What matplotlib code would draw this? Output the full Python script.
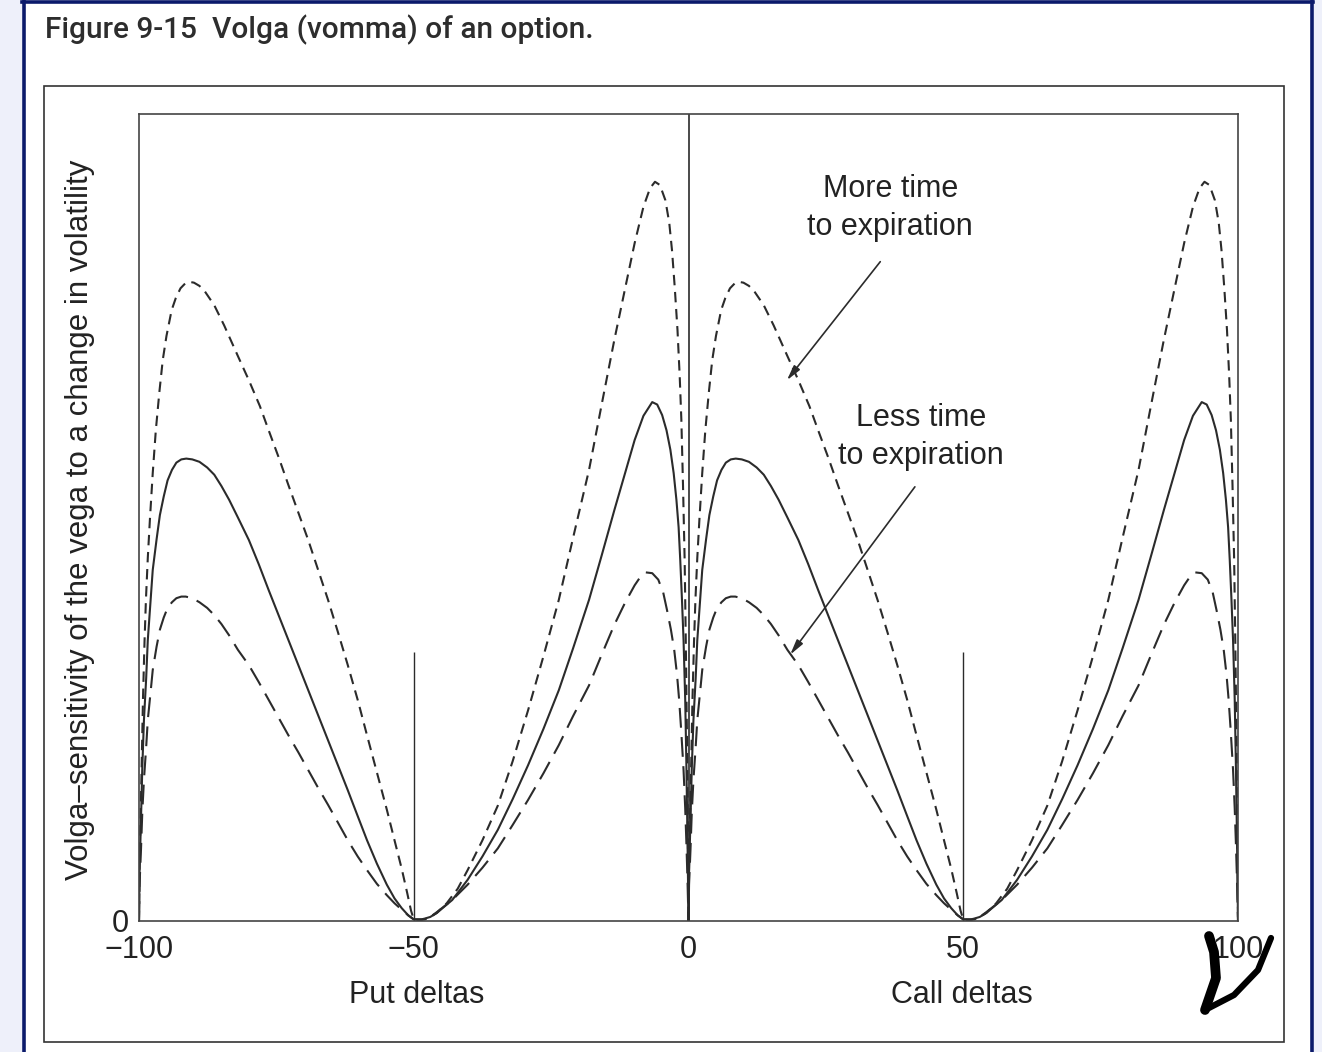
import matplotlib.pyplot as plt
from matplotlib.patches import Rectangle
from matplotlib.lines import Line2D

# put side (delta -100..0); the call side repeats the same shape shifted by +100
put_delta_more = [-100, -99.9, -99.64, -99.45, -99.28, -99.0, -98.74, -98.4, -98.02, -97.5, -96.94, -96.3, -95.68,
                  -95.0, -94.06, -93.3, -92.45, -91.6, -90.83, -90.0, -89.0, -88.0, -86.3, -84.5, -82.0, -80.0,
                  -78.0, -76.4, -74.5, -72.8, -71.0, -69.2, -67.4, -65.6, -63.8, -62.0, -60.2, -58.5, -56.7,
                  -54.9, -53.5, -52.2, -51.2, -50.5, -50.0, -49.0, -48.0, -47.0, -45.8, -44.0, -42.0, -40.2,
                  -37.5, -34.7, -32.0, -29.2, -26.4, -23.6, -21.0, -18.1, -15.8, -13.5, -11.5, -9.8, -8.2,
                  -7.0, -6.1, -5.2, -4.2, -3.5, -3.0, -2.5, -2.0, -1.6, -1.3, -1.0, -0.7, -0.5, -0.3, -0.15, 0]
volga_more = [0, 7.0, 15.0, 21.5, 27.4, 34.5, 39.8, 45.0, 49.7, 55.5, 60.8, 65.5, 69.5,
              72.5, 75.7, 77.2, 78.4, 79.0, 79.2, 79.1, 78.7, 78.0, 76.3, 73.8, 70.0, 67.0,
              63.8, 60.8, 57.3, 54.0, 50.6, 47.2, 43.5, 39.8, 35.8, 31.7, 27.4, 23.0, 18.4,
              13.8, 10.0, 6.5, 3.5, 1.3, 0.2, 0.1, 0.2, 0.5, 1.0, 2.2, 4.0, 6.3,
              10.0, 14.3, 19.8, 26.1, 32.8, 39.8, 47.5, 55.9, 64.0, 72.0, 78.5, 84.0, 88.5,
              90.8, 91.6, 91.2, 89.3, 86.5, 83.1, 78.5, 73.2, 67.5, 62.1, 54.0, 44.7, 35.0, 24.0, 14.0, 0]

put_delta_mid = [-100, -99.9, -99.64, -99.4, -99.1, -98.7, -98.4, -97.5, -96.8, -96.2, -95.5, -94.8, -94.0,
                 -93.2, -92.3, -91.4, -90.3, -89.0, -87.6, -86.3, -85.0, -83.6, -82.0, -80.0, -78.2, -76.4,
                 -74.6, -72.8, -71.0, -69.2, -67.4, -65.6, -63.8, -62.0, -60.2, -58.5, -56.7, -54.9, -53.5,
                 -52.2, -51.0, -50.0, -48.5, -47.0, -45.8, -43.0, -40.2, -37.5, -34.7, -32.0, -29.2, -26.4,
                 -23.6, -21.0, -18.1, -15.8, -13.5, -11.5, -9.8, -8.2, -6.6, -5.7, -4.8, -4.0, -3.3, -2.7,
                 -2.2, -1.8, -1.5, -1.2, -0.9, -0.6, -0.4, -0.2, 0]
volga_mid = [0, 6.0, 12.5, 19.0, 24.9, 30.0, 34.8, 43.5, 47.3, 50.3, 52.6, 54.6, 55.9,
             56.8, 57.2, 57.3, 57.2, 56.9, 56.2, 55.3, 53.9, 52.2, 50.0, 47.2, 44.2, 41.0,
             37.9, 34.8, 31.7, 28.6, 25.5, 22.4, 19.3, 16.2, 13.0, 10.0, 7.1, 4.5, 2.8,
             1.6, 0.7, 0.2, 0.2, 0.5, 1.0, 2.6, 5.1, 8.0, 11.3, 15.1, 19.3, 23.8,
             28.6, 33.8, 39.8, 45.3, 50.9, 55.6, 59.6, 62.6, 64.3, 64.0, 62.7, 60.8, 58.4, 55.5,
             52.2, 48.8, 44.7, 40.0, 34.8, 27.5, 20.0, 11.0, 0]

put_delta_less = [-100, -99.9, -99.64, -99.4, -99.1, -98.7, -98.4, -97.9, -97.5, -96.8, -96.2, -95.5, -94.8,
                  -94.0, -93.2, -92.3, -91.5, -90.3, -89.0, -87.6, -86.3, -85.0, -83.6, -82.0, -80.0, -78.2,
                  -76.4, -74.6, -72.8, -71.0, -69.2, -67.4, -65.6, -63.8, -62.0, -60.2, -58.5, -56.7, -54.9,
                  -53.5, -52.2, -51.0, -50.0, -48.5, -47.0, -45.8, -43.0, -40.2, -37.5, -34.7, -32.0, -29.2,
                  -26.4, -23.6, -21.0, -18.1, -15.8, -13.5, -11.5, -9.8, -8.7, -7.8, -6.6, -5.5, -4.6, -3.9,
                  -3.2, -2.6, -2.1, -1.7, -1.3, -0.9, -0.6, -0.4, -0.2, 0]
volga_less = [0, 4.5, 8.8, 13.5, 17.5, 21.5, 24.9, 28.3, 31.1, 34.0, 36.1, 37.6, 38.8,
              39.5, 40.0, 40.2, 40.2, 40.0, 39.5, 38.8, 37.9, 36.8, 35.4, 33.6, 31.7, 29.6,
              27.4, 25.2, 23.0, 20.9, 18.7, 16.5, 14.4, 12.2, 10.0, 8.0, 6.3, 4.6, 3.2,
              2.2, 1.4, 0.7, 0.2, 0.2, 0.5, 1.1, 2.6, 4.5, 6.6, 9.0, 11.9, 15.0,
              18.3, 21.8, 25.4, 29.2, 33.0, 36.7, 39.5, 41.6, 42.7, 43.2, 43.1, 42.3, 40.7, 38.5,
              36.1, 33.6, 30.6, 27.4, 23.3, 18.7, 14.0, 10.0, 5.5, 0]

tick_pos = [-100, -50, 0, 50, 100]
tick_labels = ['\u2212100', '\u221250', '0', '50', '100']
atm_marker_height = 33.3

W, H = 1322, 1052
plt.rcParams['font.family'] = ['Liberation Sans', 'DejaVu Sans']
fig = plt.figure(figsize=(W / 100, H / 100), dpi=100)
fig.patch.set_facecolor('white')

# page frame
fig.add_artist(Rectangle((0, 0), 22 / W, 1, transform=fig.transFigure, color='#eef0fa', lw=0))
fig.add_artist(Rectangle((1314 / W, 0), 8 / W, 1, transform=fig.transFigure, color='#eef0fa', lw=0))
fig.add_artist(Line2D([23.5 / W, 23.5 / W], [0, 1], transform=fig.transFigure, color='#0b1a6b', lw=2.6))
fig.add_artist(Line2D([1311.5 / W, 1311.5 / W], [0, 1], transform=fig.transFigure, color='#0b1a6b', lw=2.6))
fig.add_artist(Line2D([22 / W, 1313 / W], [1 - 1.5 / H, 1 - 1.5 / H], transform=fig.transFigure,
                      color='#0b1a6b', lw=2.6))
fig.add_artist(Rectangle((44 / W, 1 - 1042 / H), 1240 / W, 956 / H, transform=fig.transFigure,
                         fill=False, ec='#333333', lw=1.2))

fig.text(45 / W, 1 - 30 / H, 'Figure 9-15  Volga (vomma) of an option.', family='Roboto',
         fontweight='medium', fontsize=21.5, color='#2d2d2d', ha='left', va='center')

ax = fig.add_axes([139 / W, 1 - 921 / H, 1099 / W, 807 / H])
ax.set_xlim(-100, 100)
ax.set_ylim(0, 100)
for s in ax.spines.values():
    s.set_color('#444444')
    s.set_linewidth(1.2)

col = '#2b2b2b'
for off in [0, 100]:
    ax.plot([d + off for d in put_delta_more], volga_more, color=col, lw=1.5, ls=(0, (5, 3.2)))
    ax.plot([d + off for d in put_delta_mid], volga_mid, color=col, lw=1.5, ls='-')
    ax.plot([d + off for d in put_delta_less], volga_less, color=col, lw=1.5, ls=(0, (9.5, 4.5)))

ax.axvline(0, color=col, lw=1.2)
ax.vlines([-50, 50], 0, atm_marker_height, color=col, lw=1.0)

ax.set_xticks(tick_pos)
ax.set_xticklabels(tick_labels)
ax.set_yticks([0])
ax.set_yticklabels(['0'])
ax.tick_params(length=0, labelsize=22, colors='#222222')
ax.tick_params(axis='x', pad=10)
ax.tick_params(axis='y', pad=7)

fig.text(417 / W, 1 - 995 / H, 'Put deltas', fontsize=22, color='#222222', ha='center', va='center')
fig.text(962 / W, 1 - 995 / H, 'Call deltas', fontsize=22, color='#222222', ha='center', va='center')
fig.text(80 / W, 1 - 520 / H, 'Volga\u2013sensitivity of the vega to a change in volatility',
         fontsize=22.5, color='#222222', rotation=90, ha='center', va='center')

arrow = dict(arrowstyle='-|>,head_length=0.9,head_width=0.22', color=col, lw=1.2,
             shrinkA=0, shrinkB=0)
ax.annotate('More time\nto expiration', xy=(17.9, 67.0), xytext=(36.7, 88.4), fontsize=22,
            color='#222222', ha='center', va='center', linespacing=1.35)
ax.annotate('', xy=(17.9, 67.0), xytext=(34.9, 81.7), arrowprops=arrow)
ax.annotate('Less time\nto expiration', xy=(18.5, 33.0), xytext=(42.3, 60.0), fontsize=22,
            color='#222222', ha='center', va='center', linespacing=1.35)
ax.annotate('', xy=(18.5, 33.0), xytext=(41.2, 53.8), arrowprops=arrow)

# handwritten mark over the last tick label
fig.add_artist(Line2D([1209 / W, 1214 / W, 1216 / W, 1205 / W], [1 - 936 / H, 1 - 952 / H, 1 - 978 / H, 1 - 1010 / H],
                      transform=fig.transFigure, color='black', lw=7, solid_capstyle='round'))
fig.add_artist(Line2D([1205 / W, 1234 / W, 1258 / W, 1271 / W], [1 - 1010 / H, 1 - 995 / H, 1 - 970 / H, 1 - 938 / H],
                      transform=fig.transFigure, color='black', lw=4.5, solid_capstyle='round'))

fig.savefig('out.png', dpi=100)
